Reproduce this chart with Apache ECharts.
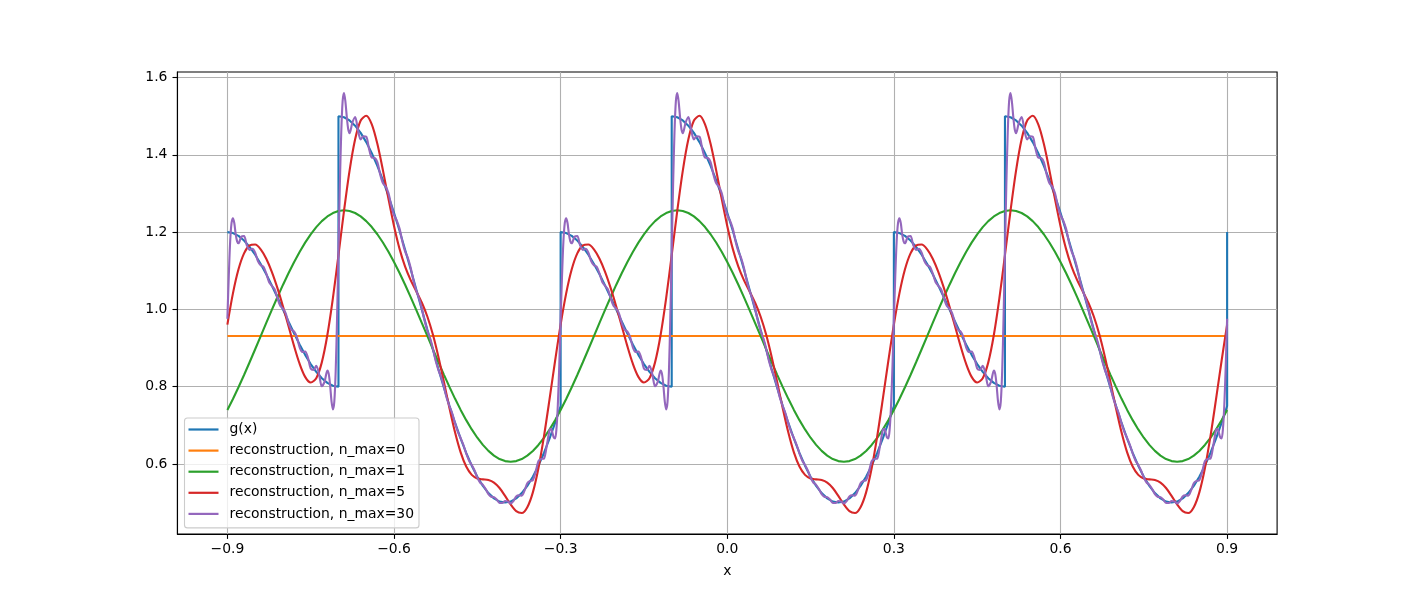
<!DOCTYPE html>
<html>
<head>
<meta charset="utf-8">
<script src="https://cdn.jsdelivr.net/npm/echarts@6/dist/echarts.min.js"></script>
<style>
  html, body { margin: 0; padding: 0; background: #fff; }
  #chart { width: 1419px; height: 600px; }
</style>
</head>
<body>
<div id="chart"></div>
<script>
// one period of every curve, x from -0.9 to -0.3; the plot shows three periods
const gridX = [-0.9,-0.89,-0.88,-0.87,-0.86,-0.85,-0.84,-0.83,-0.82,-0.81,
  -0.8,-0.79,-0.78,-0.77,-0.76,-0.75,-0.74,-0.73,-0.72,-0.71,
  -0.7,-0.69,-0.68,-0.67,-0.66,-0.65,-0.64,-0.63,-0.62,-0.61,
  -0.6,-0.59,-0.58,-0.57,-0.56,-0.55,-0.54,-0.53,-0.52,-0.51,
  -0.5,-0.49,-0.48,-0.47,-0.46,-0.45,-0.44,-0.43,-0.42,-0.41,
  -0.4,-0.39,-0.38,-0.37,-0.36,-0.35,-0.34,-0.33,-0.32,-0.31];

// g(x): jumps at -0.7 and -0.3
const gX = [-0.9,-0.89,-0.88,-0.87,-0.86,-0.85,-0.84,-0.83,-0.82,-0.81,-0.8,
  -0.79,-0.78,-0.77,-0.76,-0.75,-0.74,-0.73,-0.72,-0.71,-0.7,
  -0.7,-0.69,-0.68,-0.67,-0.66,-0.65,-0.64,-0.63,-0.62,-0.61,-0.6,
  -0.59,-0.58,-0.57,-0.56,-0.55,-0.54,-0.53,-0.52,-0.51,-0.5,
  -0.49,-0.48,-0.47,-0.46,-0.45,-0.44,-0.43,-0.42,-0.41,-0.4,
  -0.39,-0.38,-0.37,-0.36,-0.35,-0.34,-0.33,-0.32,-0.31,-0.3];
const gY = [1.2,1.1975,1.1902,1.1782,1.1618,1.1414,1.1176,1.0908,1.0618,1.0313,1.0,
  0.9687,0.9382,0.9092,0.8824,0.8586,0.8382,0.8218,0.8098,0.8025,0.8,
  1.5,1.4973,1.4891,1.4755,1.4568,1.433,1.4045,1.3716,1.3346,1.2939,1.25,
  1.2034,1.1545,1.104,1.0523,1.0,0.9477,0.896,0.8455,0.7966,0.75,
  0.7061,0.6654,0.6284,0.5955,0.567,0.5432,0.5245,0.5109,0.5027,0.5,
  0.5027,0.5109,0.5245,0.5432,0.567,0.5955,0.6284,0.6654,0.7061,0.75];

const mean0 = 0.9311;

const fit1Y = [0.7396,0.7682,0.7985,0.8303,0.8632,0.8969,0.9309,0.9649,0.9986,1.0315,
  1.0633,1.0937,1.1222,1.1487,1.1728,1.1943,1.2129,1.2284,1.2406,1.2494,
  1.2548,1.2566,1.2548,1.2495,1.2407,1.2285,1.2131,1.1945,1.1731,1.149,
  1.1226,1.094,1.0637,1.0318,0.9989,0.9653,0.9313,0.8973,0.8636,0.8307,
  0.7989,0.7685,0.7399,0.7134,0.6893,0.6679,0.6493,0.6338,0.6216,0.6127,
  0.6074,0.6056,0.6074,0.6127,0.6215,0.6337,0.6491,0.6676,0.6891,0.7132];

const fit5Y = [0.9607,1.0415,1.1037,1.1449,1.1655,1.1679,1.1553,1.1309,1.0971,1.0556,
  1.0082,0.957,0.9056,0.8595,0.8254,0.8107,0.8219,0.8629,0.9336,1.0292,
  1.1405,1.2552,1.3593,1.4402,1.4888,1.5011,1.4788,1.4284,1.3604,1.2862,
  1.216,1.1566,1.1105,1.0757,1.0471,1.0178,0.9816,0.9348,0.8769,0.8113,
  0.7437,0.6812,0.6298,0.5932,0.5718,0.5625,0.5601,0.5582,0.5516,0.5377,
  0.5174,0.4951,0.4777,0.473,0.4879,0.5264,0.5888,0.6714,0.767,0.8665];

const fit30X = [-0.9,-0.8975,-0.895,-0.8925,-0.89,-0.8875,-0.885,-0.8825,-0.88,-0.875,
  -0.87,-0.865,-0.86,-0.855,-0.85,-0.845,-0.84,-0.835,-0.83,-0.825,
  -0.82,-0.815,-0.81,-0.805,-0.8,-0.795,-0.79,-0.785,-0.78,-0.775,
  -0.77,-0.765,-0.76,-0.755,-0.75,-0.745,-0.74,-0.735,-0.73,-0.725,
  -0.72,-0.7175,-0.715,-0.7125,-0.71,-0.7075,-0.705,-0.7025,-0.7,
  -0.6975,-0.695,-0.6925,-0.69,-0.6875,-0.685,-0.6825,-0.68,-0.675,
  -0.67,-0.665,-0.66,-0.655,-0.65,-0.645,-0.64,-0.635,-0.63,-0.625,
  -0.62,-0.615,-0.61,-0.605,-0.6,-0.595,-0.59,-0.585,-0.58,-0.575,
  -0.57,-0.565,-0.56,-0.555,-0.55,-0.545,-0.54,-0.535,-0.53,-0.525,
  -0.52,-0.515,-0.51,-0.505,-0.5,-0.495,-0.49,-0.485,-0.48,-0.475,
  -0.47,-0.465,-0.46,-0.455,-0.45,-0.445,-0.44,-0.435,-0.43,-0.425,
  -0.42,-0.415,-0.41,-0.405,-0.4,-0.395,-0.39,-0.385,-0.38,-0.375,
  -0.37,-0.365,-0.36,-0.355,-0.35,-0.345,-0.34,-0.335,-0.33,-0.325,
  -0.32,-0.3175,-0.315,-0.3125,-0.31,-0.3075,-0.305,-0.3025];
const fit30Y = [0.976,1.085,1.176,1.224,1.236,1.223,1.194,1.176,1.171,1.188,
  1.19,1.166,1.154,1.157,1.147,1.125,1.114,1.11,1.093,1.071,
  1.061,1.052,1.03,1.01,1.002,0.99,0.965,0.948,0.943,0.929,
  0.902,0.89,0.891,0.875,0.847,0.843,0.854,0.833,0.801,0.813,
  0.842,0.833,0.803,0.762,0.741,0.761,0.84,0.979,1.15,
  1.322,1.458,1.539,1.56,1.538,1.498,1.467,1.456,1.483,
  1.498,1.465,1.44,1.448,1.447,1.416,1.393,1.392,1.381,1.35,
  1.327,1.318,1.301,1.269,1.244,1.23,1.209,1.176,1.15,1.133,
  1.108,1.075,1.049,1.029,1.003,0.971,0.945,0.925,0.899,0.867,
  0.843,0.824,0.799,0.77,0.749,0.73,0.705,0.683,0.667,0.649,
  0.627,0.609,0.597,0.583,0.565,0.552,0.546,0.535,0.522,0.515,
  0.514,0.508,0.499,0.499,0.504,0.503,0.498,0.504,0.516,0.519,
  0.518,0.531,0.55,0.556,0.558,0.579,0.607,0.613,0.614,0.647,
  0.687,0.691,0.682,0.669,0.666,0.691,0.754,0.853];

const xTicks = [-0.9, -0.6, -0.3, 0, 0.3, 0.6, 0.9];
const yTicks = [0.6, 0.8, 1.0, 1.2, 1.4, 1.6];

const names = ['g(x)', 'reconstruction, n_max=0', 'reconstruction, n_max=1',
  'reconstruction, n_max=5', 'reconstruction, n_max=30'];
const colors = ['#1f77b4', '#ff7f0e', '#2ca02c', '#d62728', '#9467bd'];

// repeat one period three times, closing at x=0.9
function tile(xs, ys) {
  let out = [];
  for (let p = 0; p < 3; p++) {
    for (let i = 0; i < xs.length; i++) {
      out.push([Math.round((xs[i] + 0.6 * p) * 10000) / 10000, ys[i]]);
    }
  }
  out.push([0.9, ys[0]]);
  return out;
}

const font = 'DejaVu Sans';
const fs = 13.9;
function fmt(v) {
  return v.toFixed(1).replace('-', '\u2212');
}

const chart = echarts.init(document.getElementById('chart'));

function line(i, data, smooth) {
  return {
    name: names[i], type: 'line', data: data, showSymbol: false, symbol: 'none',
    smooth: smooth, color: colors[i],
    lineStyle: { width: 2.1, color: colors[i] },
    emphasis: { disabled: true }
  };
}

chart.setOption({
  animation: false,
  backgroundColor: '#fff',
  grid: {
    left: 177.4, right: 141.9, top: 72, bottom: 66,
    show: true, borderColor: '#000', borderWidth: 1.1, backgroundColor: 'transparent'
  },
  legend: {
    orient: 'vertical', left: 184.5, top: 418,
    icon: 'rect', itemWidth: 30, itemHeight: 2.2, itemGap: 7.1,
    padding: [4.5, 5, 7, 4],
    backgroundColor: 'rgba(255,255,255,0.8)', borderColor: '#cccccc', borderWidth: 1.1, borderRadius: 3,
    textStyle: { fontFamily: font, fontSize: fs, color: '#000', lineHeight: 14, padding: [0, 0, 0, 6] },
    data: names
  },
  xAxis: {
    type: 'value', min: -0.99, max: 0.99,
    name: 'x', nameLocation: 'middle', nameGap: 30,
    nameTextStyle: { fontFamily: font, fontSize: fs, color: '#000' },
    axisLine: { onZero: false, lineStyle: { color: '#000', width: 1.1 } },
    axisTick: { customValues: xTicks, length: 4.9, lineStyle: { color: '#000', width: 1.1 } },
    axisLabel: { customValues: xTicks, margin: 8, formatter: fmt, fontFamily: font, fontSize: fs, color: '#000' },
    splitLine: { show: true, lineStyle: { color: '#b0b0b0', width: 1.1 } }
  },
  yAxis: {
    type: 'value', min: 0.4187, max: 1.6144,
    axisLine: { show: true, onZero: false, lineStyle: { color: '#000', width: 1.1 } },
    axisTick: { show: true, customValues: yTicks, length: 4.9, lineStyle: { color: '#000', width: 1.1 } },
    axisLabel: { customValues: yTicks, margin: 10, formatter: fmt, fontFamily: font, fontSize: fs, color: '#000' },
    splitLine: { show: true, lineStyle: { color: '#b0b0b0', width: 1.1 } }
  },
  series: [
    line(0, tile(gX, gY), false),
    line(1, [[-0.9, mean0], [0.9, mean0]], false),
    line(2, tile(gridX, fit1Y), false),
    line(3, tile(gridX, fit5Y), 0.3),
    line(4, tile(fit30X, fit30Y), 0.3)
  ]
});
</script>
</body>
</html>
